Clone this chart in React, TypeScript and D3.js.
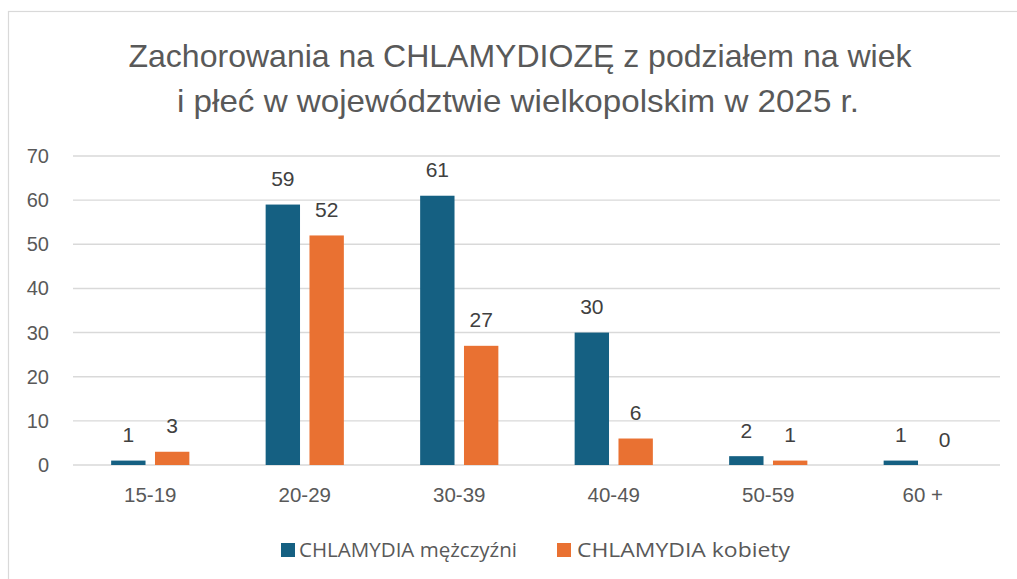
import React from "react";
import * as d3 from "d3";

const categories = ["15-19", "20-29", "30-39", "40-49", "50-59", "60 +"];
const men = [1, 59, 61, 30, 2, 1];
const women = [3, 52, 27, 6, 1, 0];
const seriesNames = ["CHLAMYDIA mężczyźni", "CHLAMYDIA kobiety"];
const yTicks = [0, 10, 20, 30, 40, 50, 60, 70];
const titleLines = [
  "Zachorowania na CHLAMYDIOZĘ z podziałem na wiek",
  "i płeć w województwie wielkopolskim w 2025 r.",
];
const colors = ["#156082", "#E97132"];

const W = 1017, H = 579;
const plot = { left: 73, right: 1000, top: 156, bottom: 465 };

export default function App() {
  const x = d3.scaleBand<string>().domain(categories).range([plot.left, plot.right]);
  const y = d3.scaleLinear().domain([0, 70]).range([plot.bottom, plot.top]);
  const inner = d3.scaleBand<number>().domain([0, 1]).range([0, x.bandwidth()]).paddingInner(0.216).paddingOuter(0.87);
  const series = [men, women];
  const labelFont = "'Liberation Sans', Arial, sans-serif";
  const titleFont = "'Liberation Sans', Arial, sans-serif";
  const legendFont = "'Open Sans', 'Liberation Sans', sans-serif";
  return (
    <svg width={W} height={H} style={{ position: "absolute", left: 0, top: 0, background: "#fff" }}>
      <rect x={8.5} y={11.5} width={W + 10} height={H + 10} fill="#fff" stroke="#d9d9d9" strokeWidth={1.2} />
      <text x={520} y={67} textAnchor="middle" fontFamily={titleFont} fontSize={32} fill="#595959" textLength={783} lengthAdjust="spacingAndGlyphs">
        {titleLines[0]}
      </text>
      <text x={518} y={112} textAnchor="middle" fontFamily={titleFont} fontSize={32} fill="#595959" textLength={682} lengthAdjust="spacingAndGlyphs">
        {titleLines[1]}
      </text>
      {yTicks.map((t) => (
        <g key={t}>
          <line x1={plot.left} x2={plot.right} y1={y(t)} y2={y(t)} stroke="#d9d9d9" strokeWidth={1.4} />
          <text x={49} y={y(t) + 7} textAnchor="end" fontFamily={labelFont} fontSize={20} fill="#595959">{t}</text>
        </g>
      ))}
      {categories.map((c, i) => (
        <g key={c}>
          {series.map((s, j) => {
            const bx = (x(c) as number) + (inner(j) as number);
            const bw = inner.bandwidth();
            return (
              <g key={j}>
                {s[i] > 0 && (
                  <rect x={bx} y={y(s[i])} width={bw} height={y(0) - y(s[i])} fill={colors[j]} />
                )}
                <text x={bx + bw / 2} y={y(s[i]) - 18.5} textAnchor="middle" fontFamily={labelFont} fontSize={21} fill="#404040">{s[i]}</text>
              </g>
            );
          })}
          <text x={(x(c) as number) + x.bandwidth() / 2} y={502} textAnchor="middle" fontFamily={labelFont} fontSize={20.5} fill="#595959">{c}</text>
        </g>
      ))}
      <g>
        <rect x={281} y={543} width={14} height={14} fill={colors[0]} />
        <text x={299} y={557} fontFamily={legendFont} fontSize={20} fill="#595959" textLength={218} lengthAdjust="spacingAndGlyphs">{seriesNames[0]}</text>
        <rect x={557} y={543} width={14} height={14} fill={colors[1]} />
        <text x={577} y={557} fontFamily={legendFont} fontSize={20} fill="#595959" textLength={213} lengthAdjust="spacingAndGlyphs">{seriesNames[1]}</text>
      </g>
    </svg>
  );
}
